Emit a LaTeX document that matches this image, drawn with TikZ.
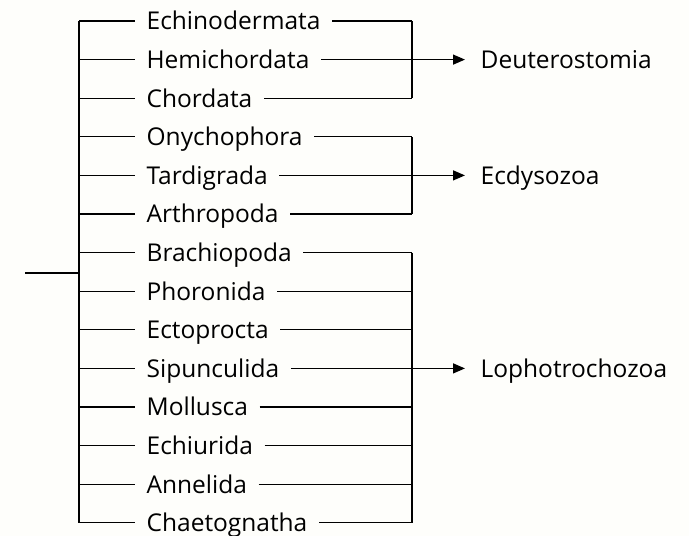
\documentclass[tikz,border=0pt]{standalone}
\usepackage{fontspec}
\setmainfont{Open Sans}
\usetikzlibrary{arrows.meta}
\definecolor{bg}{HTML}{FEFEFB}
\begin{document}
\begin{tikzpicture}[x=1pt,y=-1pt,line width=1.3pt,
  taxon/.style={anchor=west,inner xsep=11pt,inner ysep=0pt,text height=17.6pt,text depth=0pt,
    font=\fontsize{24.5}{24.5}\selectfont},
  clade/.style={anchor=west,inner xsep=15pt,inner ysep=0pt,text height=17.6pt,text depth=0pt,
    font=\fontsize{24.5}{24.5}\selectfont},
  arr/.style={-{Triangle[length=12pt,width=10pt]}}]
\fill[bg] (0,0) rectangle (689,536);
\useasboundingbox (0,0) rectangle (689,536);
\foreach \n/\t [count=\i] in {r1/Echinodermata,r2/Hemichordata,r3/Chordata,r4/Onychophora,
  r5/Tardigrada,r6/Arthropoda,r7/Brachiopoda,r8/Phoronida,r9/Ectoprocta,r10/Sipunculida,
  r11/Mollusca,r12/Echiurida,r13/Annelida,r14/Chaetognatha}{
  \pgfmathsetmacro\yy{21+(\i-1)*38.6}
  \node[taxon] (\n) at (135,\yy) {\t};
  \coordinate (t\i) at (79,\yy);
  \coordinate (b\i) at (412,\yy);
  \draw (t\i) -- (\n.west);
  \draw (\n.east) -- (b\i);
}
\coordinate (root) at (25,273);
\coordinate (rj) at (79,273);
\draw (t1) -- (t14);
\draw (root) -- (rj);
% brackets
\draw (b1) -- (b3);
\draw (b4) -- (b6);
\draw (b7) -- (b14);
% clades
\node[clade] (D) at (465,{21+1*38.6}) {Deuterostomia};
\node[clade] (E) at (465,{21+4*38.6}) {Ecdysozoa};
\node[clade] (L) at (465,{21+9*38.6}) {Lophotrochozoa};
\draw[arr] (b2) -- (D.west);
\draw[arr] (b5) -- (E.west);
\draw[arr] (b10) -- (L.west);
\end{tikzpicture}
\end{document}
